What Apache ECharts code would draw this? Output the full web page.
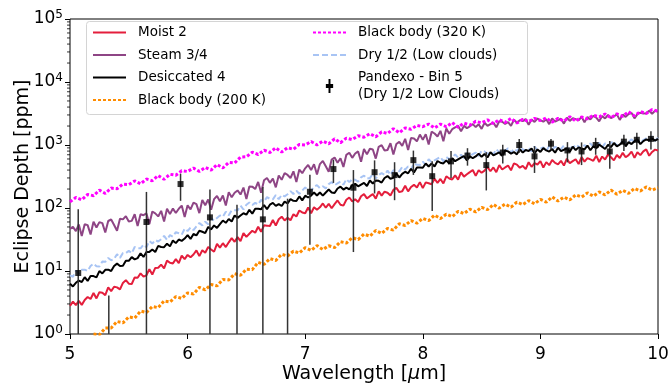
<!DOCTYPE html>
<html>
<head>
<meta charset="utf-8">
<script src="https://cdn.jsdelivr.net/npm/echarts@6/dist/echarts.min.js"></script>
<style>
  html, body { margin: 0; padding: 0; background: #fff; }
  #chart { width: 672px; height: 389px; }
</style>
</head>
<body>
<div id="chart"></div>
<script>
// fine wavelength grid (um) for the model spectra
const wlFine = [5.000,5.025,5.050,5.075,5.100,5.125,5.150,5.175,5.200,5.225,
  5.250,5.275,5.300,5.325,5.350,5.375,5.400,5.425,5.450,5.475,
  5.500,5.525,5.550,5.575,5.600,5.625,5.650,5.675,5.700,5.725,
  5.750,5.775,5.800,5.825,5.850,5.875,5.900,5.925,5.950,5.975,
  6.000,6.025,6.050,6.075,6.100,6.125,6.150,6.175,6.200,6.225,
  6.250,6.275,6.300,6.325,6.350,6.375,6.400,6.425,6.450,6.475,
  6.500,6.525,6.550,6.575,6.600,6.625,6.650,6.675,6.700,6.725,
  6.750,6.775,6.800,6.825,6.850,6.875,6.900,6.925,6.950,6.975,
  7.000,7.025,7.050,7.075,7.100,7.125,7.150,7.175,7.200,7.225,
  7.250,7.275,7.300,7.325,7.350,7.375,7.400,7.425,7.450,7.475,
  7.500,7.525,7.550,7.575,7.600,7.625,7.650,7.675,7.700,7.725,
  7.750,7.775,7.800,7.825,7.850,7.875,7.900,7.925,7.950,7.975,
  8.000,8.025,8.050,8.075,8.100,8.125,8.150,8.175,8.200,8.225,
  8.250,8.275,8.300,8.325,8.350,8.375,8.400,8.425,8.450,8.475,
  8.500,8.525,8.550,8.575,8.600,8.625,8.650,8.675,8.700,8.725,
  8.750,8.775,8.800,8.825,8.850,8.875,8.900,8.925,8.950,8.975,
  9.000,9.025,9.050,9.075,9.100,9.125,9.150,9.175,9.200,9.225,
  9.250,9.275,9.300,9.325,9.350,9.375,9.400,9.425,9.450,9.475,
  9.500,9.525,9.550,9.575,9.600,9.625,9.650,9.675,9.700,9.725,
  9.750,9.775,9.800,9.825,9.850,9.875,9.900,9.925,9.950,9.975,
  10.000];

// coarser grid (um) for the black body curves
const wl = [5.00,5.05,5.10,5.15,5.20,5.25,5.30,5.35,5.40,5.45,
  5.50,5.55,5.60,5.65,5.70,5.75,5.80,5.85,5.90,5.95,
  6.00,6.05,6.10,6.15,6.20,6.25,6.30,6.35,6.40,6.45,
  6.50,6.55,6.60,6.65,6.70,6.75,6.80,6.85,6.90,6.95,
  7.00,7.05,7.10,7.15,7.20,7.25,7.30,7.35,7.40,7.45,
  7.50,7.55,7.60,7.65,7.70,7.75,7.80,7.85,7.90,7.95,
  8.00,8.05,8.10,8.15,8.20,8.25,8.30,8.35,8.40,8.45,
  8.50,8.55,8.60,8.65,8.70,8.75,8.80,8.85,8.90,8.95,
  9.00,9.05,9.10,9.15,9.20,9.25,9.30,9.35,9.40,9.45,
  9.50,9.55,9.60,9.65,9.70,9.75,9.80,9.85,9.90,9.95,
  10.00];

// eclipse depth in ppm
const moist2 = [2.8,3.27,2.87,3.36,2.9,3.47,3.87,3.59,4.48,3.67,
  4.61,4.52,4.14,5.49,4.79,5.62,5.5,5.1,6.47,7.17,
  6.3,6.22,7.9,7.82,9.18,8.13,8.55,10.7,8.8,11.2,
  11.25,12.6,11.0,14.6,13.5,13.2,15.4,13.3,17.6,15.4,
  18.0,16.5,18.25,21.2,17.2,21.3,19.5,24.0,22,20.2,
  26.9,23.5,27.6,24.0,28.5,33.3,29.1,34.5,29.9,39.8,
  34.8,39,43.5,40.4,50.4,41.8,53,52.5,51.7,64.4,
  52.8,66.3,72.8,63.5,70,63.8,79.5,73.3,91.3,85,
  82.7,102,82.7,103,94,102.5,118,101,116.6,99,
  115,131.6,112.8,109,135,146.7,127,138,124.5,153.7,
  165.8,142,154,166.4,140.8,183.7,157.5,181.3,175,157.5,
  193.5,208.3,178.6,184,226,183.5,215,233,211.5,257.6,
  206.8,255.5,247.5,238.8,291,250,289,245.5,319,294,
  284,329.7,281.6,366.8,315,342.5,371,402,323.4,398.6,
  362,392.5,448,383,440,370.5,478.8,408,440,471.7,
  396,509.6,487.6,436,467.5,414.5,532,451,514,490,
  554,440,535,479,577,520,493.5,562,471,606,
  514.6,554,593.6,498,641,544,620,591,561.6,676.5,
  536.8,654.5,587.5,708,640,569.8,694,622.8,750,639,
  690,784,624.8,765.9,691,792,851,675,775,845,
  820];

const steam34 = [46.6,50.2,42.9,54.9,36,55.1,53.4,38.1,60.4,49.1,
  59.7,57.5,40.8,62.2,65.7,53.6,43.5,67.3,66,74.2,
  61.2,62.5,79.5,52,79.6,76.9,82.1,55.6,88,82.2,
  73.5,90,61.2,97.5,79.9,97.9,83.3,97.5,109.2,71.7,
  110.2,94.8,121.9,115,83,133.6,110.5,136.7,93.8,138,
  155.3,128.1,158.1,109.7,177.6,147.7,174.6,190,163.6,210.7,
  139.4,219.3,218.3,199.8,259.7,175.1,275.4,299.5,250.8,294.6,
  212.5,327.7,280.5,357.8,334.7,299.6,381.6,258.4,408,357,
  426.8,482.3,399.5,494.7,340,498.3,559,460,377.4,586.5,
  630.7,522.8,616,448.8,698.7,752.6,624.8,732.4,790.5,540.6,
  863.9,709.8,872,848.8,608.6,934.3,993.8,815,833,1070.6,
  707.2,1037.9,1122,971,1256,834.7,1295,1268,1143,1465,
  1207,1486.7,1016.6,1624.5,1523,1366,1678,1144,1823,1504.5,
  1784,1907,2016,1653,2009,1855,1980,2147,1925,2137,
  1802,2252,2018,2151,2264,1908,2383,2341,2158,2298,
  2014.5,2515,2251,2481,2396,2580,2100,2532,2320,2633,
  2470,2344,2570,2142,2646,2355,2494,2609,2185,2712,
  2413,2660,2568,2460,2804,2291,2774,2548,2898,2724,
  2380,2874,2637,2995,2669,2837,3066,2503,3029,2797,
  3106,3237,2652,3094,3259,3168,3205,3486,3134,3488,
  3400];

const desiccated4 = [6.27,5.69,6.5,7.05,6.69,7.98,6.96,8.33,8.3,7.94,
  9.97,9.14,10.45,10.5,10.0,12.0,13.1,12.0,12.1,14.5,
  14.5,16.6,15.3,16.0,19.1,16.7,20.1,20.1,21.9,20.0,
  25.1,24,23.9,27.2,24.6,30.5,27.7,31.6,30.1,32.75,
  37.1,32.3,38.7,36.8,43.6,42,40,50.1,45.8,52.8,
  48.2,55.5,63.2,58.3,66.9,61,76.3,69.7,76,82.6,
  78.3,93.5,81.4,97.4,97,95.3,111.7,95.8,112.9,120.4,
  107.9,115.5,107.4,126.4,118.4,138.4,130,129,152.6,132,
  156.8,146.8,157.5,175.8,157.6,176.3,157,176.3,196.2,176.7,
  172.9,203.8,218,196.3,211,197,232,242,220.6,235.5,
  250.8,223.4,273.6,245,273.8,270,253.4,299.7,321.6,291.3,
  300.8,354,304.9,347.5,376.2,355.7,419.7,366.3,438.9,437.5,
  434.5,508,456,511,455,557,522.5,510,569.5,506,
  618.6,553,590,628,667.6,568,663.6,617,657.5,729,
  649.4,720,634.7,769.5,682.8,724,765.5,674.3,817.5,791.6,
  730.6,772.5,709.8,856.7,756.8,835,805,880,737,849,
  778,891,820,785.5,862,754,907,798,840,885.6,
  778,940,831,917,885,852,981,826,956,881,
  1014,940,864.5,1003,926,1074,955,1015,1123,953,
  1113,1034,1150,1218,1033,1152.5,1223,1190,1264,1175,
  1250];

const dry12 = [8.5,8.07,10.1,9.19,10.45,10.5,10.0,12.0,13.1,11.9,
  11.8,14.1,14,16.1,14.8,15.5,18.5,16.15,19.3,19.25,
  20.9,19.1,24.0,23,22.9,26.2,23.9,29.9,27.2,30.9,
  29.4,31.9,36.0,31.2,37.1,35.1,41.4,39.75,37.8,47.1,
  43,49.1,44.6,51,57.8,53,60.6,55,68.7,63.3,
  69.5,76,72.6,87.2,76.4,92,92,91.7,109,94.6,
  112.9,122.4,111.3,120.75,113.75,134.5,126.5,148.5,140,137.3,
  160.8,137.6,162,152.8,165,185.3,167,188,168,190,
  212.6,190,185,217,231,206.8,221,205,240,256.7,
  230,246.5,263,234.6,287,257,287,281,261.6,307,
  327,292,298.4,347.7,295.8,333.75,358,335.4,392.4,336.7,
  397,390,382,449.6,405.9,457,409.5,509.6,485,480,
  543.4,484.6,594,532.4,570,607,645.8,549.6,642.7,598,
  637.5,707.4,630.3,701,621,756.5,673,715,757.6,669,
  812,788,728,771,710,858,759,838.6,810,891,
  751,870,802,921,850,816.5,898.7,786,945.6,832,
  875,918.5,803,965.7,850,934,897.5,860.5,986.5,830,
  961,885.8,1019,942.5,864.5,1000.6,921.6,1060,936,987.5,
  1084.6,914.6,1060.7,979,1081.6,1141.8,964.6,1072.5,1134,1100,
  1115,1231.7,1093.5,1214.8,1073.8,1197.5,1269.7,1180,1371,1164,
  1310];

const bb200 = [null,null,null,null,1.0,0.97,1.24,1.25,1.58,1.5,
  1.87,1.79,2.31,2.19,2.73,2.62,3.35,3.22,3.92,3.67,
  4.49,4.32,5.5,5.02,6.09,5.8,7.34,7.2,9.05,8.55,
  10.7,10.5,13.75,12.7,15.75,14.7,18.4,17.3,20.7,19.3,
  23.5,21.2,25.3,21.9,25.2,23.5,29.2,27.8,33.8,31.5,
  38.5,35.7,44,39.5,47.3,44.6,56.2,52.8,63.2,57.3,
  68.5,63,77,67.9,79.8,72.7,88.6,81.6,95.9,86.5,
  102.7,94,114,99.5,115.5,103,124,113,131,116.6,
  137,124,150,129,149,134,162,149,174,154,
  180,161,192.5,165.5,191,171,205,186,216,192,
  210];

const bb320 = [125,147,135,164,157,192,170,207,202,240,
  235,269,242,288,271,327,285,343,331,391,
  380,430,381,440,399,490,432,530,518,643,
  650,768,707,827,760,902,773,908,854,1020,
  1000,1134,1004,1155,1045,1254,1086,1286,1219,1404,
  1330,1515,1349,1617,1520,1815,1564,1864,1776,2052,
  1950,2153,1860,2147,1948,2272,1914,2221,2064,2376,
  2250,2507,2186,2518,2280,2651,2226,2557,2352,2646,
  2450,2687,2306,2650,2394,2816,2392,2783,2592,2970,
  2800,3107,2697,3127,2850,3383,2898,3386,3168,3645,
  3450];

// Pandexo simulated observation, bin 5
const pdxWl = [5.07,5.33,5.65,5.94,6.19,6.42,6.64,6.85,7.04,7.24,7.41,7.59,7.76,7.92,8.08,
  8.24,8.38,8.54,8.68,8.82,8.95,9.09,9.23,9.35,9.47,9.59,9.71,9.82,9.94];
const pdxVal = [9.3,0.5,60,240,71,0.5,66,0.5,181,415,210,370,333,575,320,
  550,680,480,760,1000,660,1050,820,790,1000,790,1130,1210,1250];
const pdxErr = [86,3.6,120,110,125,112,150,140,155,165,190,200,200,240,230,
  250,210,290,250,250,300,200,290,310,300,370,330,350,400];

const yMinor = [2,3,4,5,6,7,8,9, 20,30,40,50,60,70,80,90,
  200,300,400,500,600,700,800,900, 2000,3000,4000,5000,6000,7000,8000,9000,
  20000,30000,40000,50000,60000,70000,80000,90000];

const FONT = 'DejaVu Sans';
const pdxName = 'Pandexo - Bin 5\n(Dry 1/2 Low Clouds)';

function lineSeries(name, xs, ys, color, width, type, z) {
  return {
    name: name,
    type: 'line',
    data: xs.map((x, i) => [x, ys[i]]),
    symbol: 'none',
    showSymbol: false,
    connectNulls: false,
    clip: true,
    z: z,
    lineStyle: { color: color, width: width, type: type },
    itemStyle: { color: color },
    emphasis: { disabled: true }
  };
}

const chart = echarts.init(document.getElementById('chart'), null, { renderer: 'canvas' });

const legendText = { fontFamily: FONT, fontSize: 13.5, color: '#000', lineHeight: 17, padding: [0, 0, 0, 7] };

const option = {
  animation: false,
  backgroundColor: '#fff',
  textStyle: { fontFamily: FONT },
  grid: {
    left: 70, right: 14, top: 19, bottom: 49,
    show: true, borderColor: '#000', borderWidth: 1, backgroundColor: 'transparent'
  },
  graphic: [{
    type: 'rect',
    left: 86, top: 21, z: 3,
    shape: { width: 441, height: 93, r: 3 },
    style: { fill: 'rgba(255,255,255,0.8)', stroke: '#d4d4d4', lineWidth: 1 }
  }],
  legend: [{
    orient: 'vertical',
    left: 92, top: 24,
    padding: 0,
    itemWidth: 33, itemHeight: 14, itemGap: 5.5,
    z: 5,
    itemStyle: { opacity: 0 },
    data: ['Moist 2', 'Steam 3/4', 'Desiccated 4', 'Black body (200 K)'],
    textStyle: legendText
  }, {
    orient: 'vertical',
    left: 312, top: 24,
    padding: 0,
    itemWidth: 33, itemHeight: 14, itemGap: 5.5,
    z: 5,
    data: [
      { name: 'Black body (320 K)', itemStyle: { opacity: 0 } },
      { name: 'Dry 1/2 (Low clouds)', itemStyle: { opacity: 0 } },
      {
        name: pdxName,
        icon: 'path://M2.3,0 L3.7,0 L3.7,3.6 L5.6,3.6 L5.6,6.4 L3.7,6.4 L3.7,10 L2.3,10 L2.3,6.4 L0.4,6.4 L0.4,3.6 L2.3,3.6 Z',
        itemStyle: { color: '#000', opacity: 1 }
      }
    ],
    textStyle: legendText
  }],
  xAxis: {
    type: 'value',
    min: 5, max: 10, interval: 1,
    name: 'Wavelength [{mu|μ}m]',
    nameLocation: 'middle',
    nameGap: 31,
    nameMoveOverlap: false,
    nameTextStyle: {
      fontFamily: FONT, fontSize: 19, color: '#000',
      rich: { mu: { fontFamily: FONT, fontSize: 19, fontStyle: 'italic', color: '#000' } }
    },
    axisLine: { show: false },
    axisTick: { show: true, inside: false, length: 5, lineStyle: { color: '#000', width: 1 } },
    axisLabel: { fontFamily: FONT, fontSize: 17, color: '#000', margin: 12, showMinLabel: true, showMaxLabel: true },
    splitLine: { show: false }
  },
  yAxis: {
    type: 'log',
    logBase: 10,
    min: 1, max: 100000,
    name: 'Eclipse Depth [ppm]',
    nameLocation: 'middle',
    nameGap: 37,
    nameMoveOverlap: false,
    nameTextStyle: { fontFamily: FONT, fontSize: 19, color: '#000' },
    axisLine: { show: false },
    axisTick: { show: true, inside: false, length: 5, lineStyle: { color: '#000', width: 1 } },
    axisLabel: {
      margin: 7,
      formatter: function (v) {
        return '{b|10}{s|' + Math.round(Math.log10(v)) + '}';
      },
      rich: {
        b: { fontFamily: FONT, fontSize: 17, color: '#000' },
        s: { fontFamily: FONT, fontSize: 12, color: '#000', verticalAlign: 'top', padding: [0, 0, 9, 0] }
      }
    },
    splitLine: { show: false }
  },
  series: [
    lineSeries('Moist 2', wlFine, moist2, '#e41e3c', 2, 'solid', 2),
    lineSeries('Steam 3/4', wlFine, steam34, '#8e4585', 2, 'solid', 2),
    lineSeries('Desiccated 4', wlFine, desiccated4, '#000000', 2, 'solid', 3),
    lineSeries('Black body (200 K)', wl, bb200, '#ff8c00', 3, [3, 2], 2),
    lineSeries('Black body (320 K)', wl, bb320, '#ff00ff', 3, [3, 2], 2),
    lineSeries('Dry 1/2 (Low clouds)', wlFine, dry12, '#a8c4f4', 2, [6, 3], 2),
    {
      name: pdxName,
      type: 'scatter',
      data: pdxWl.map((x, i) => [x, pdxVal[i]]),
      symbol: 'rect',
      symbolSize: 6,
      clip: true,
      z: 6,
      itemStyle: { color: '#000' },
      emphasis: { disabled: true }
    },
    {
      name: pdxName,
      type: 'custom',
      clip: true,
      z: 5,
      data: pdxWl.map((x, i) => [x, Math.max(pdxVal[i] - pdxErr[i], 0.1), pdxVal[i] + pdxErr[i]]),
      renderItem: function (params, api) {
        const top = api.coord([api.value(0), api.value(2)]);
        const bot = api.coord([api.value(0), api.value(1)]);
        return {
          type: 'line',
          shape: { x1: top[0], y1: top[1], x2: bot[0], y2: bot[1] },
          style: { stroke: '#333', lineWidth: 1.5 }
        };
      }
    },
    {
      // minor ticks of the log axis (2..9 in each decade)
      name: 'minorTicks',
      type: 'custom',
      clip: false,
      silent: true,
      z: 4,
      data: yMinor.map(v => [5, v]),
      renderItem: function (params, api) {
        const p = api.coord([api.value(0), api.value(1)]);
        return {
          type: 'line',
          shape: { x1: p[0] - 3, y1: p[1], x2: p[0], y2: p[1] },
          style: { stroke: '#000', lineWidth: 0.8 }
        };
      }
    }
  ]
};

chart.setOption(option);
</script>
</body>
</html>
